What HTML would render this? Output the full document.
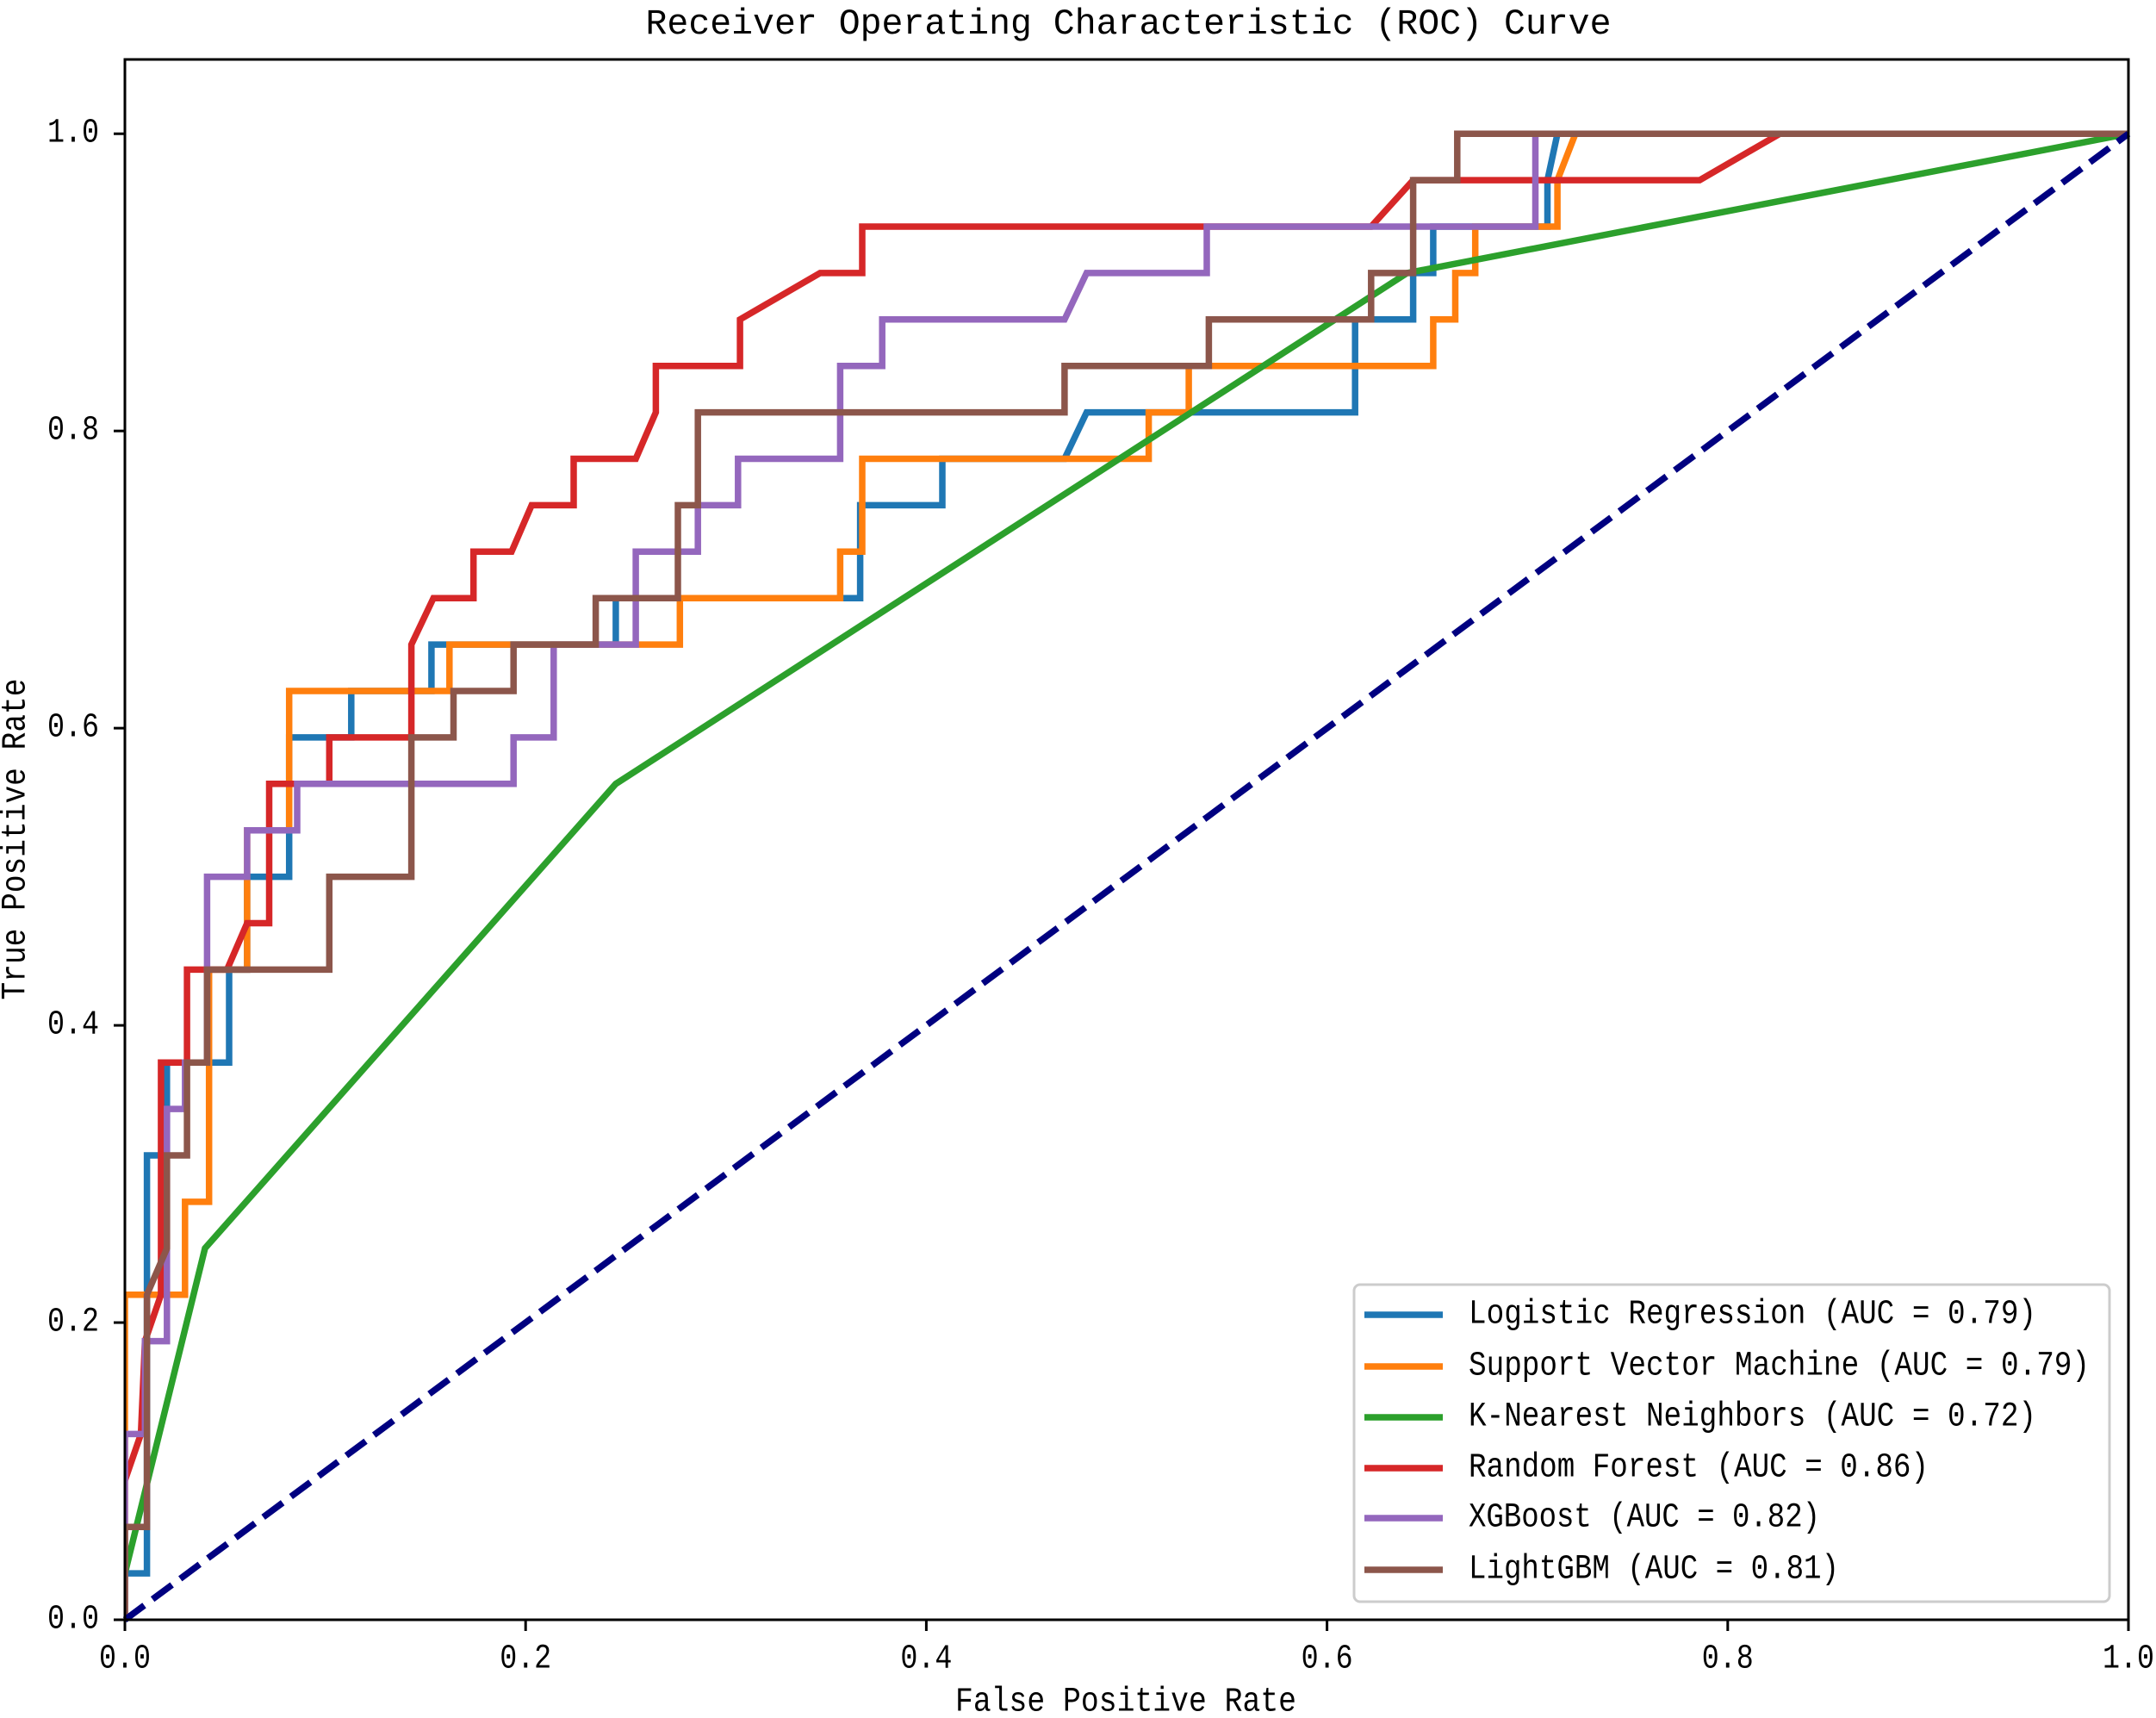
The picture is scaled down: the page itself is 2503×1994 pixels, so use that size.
<!DOCTYPE html>
<html><head><meta charset="utf-8"><style>
html,body{margin:0;padding:0;background:#fff;}
svg{display:block;}
text{font-family:"Liberation Mono","Noto Serif CJK SC",monospace;fill:#000;}
</style></head><body>
<svg id="chart" width="2503" height="1994" viewBox="0 0 2503 1994" xmlns="http://www.w3.org/2000/svg">
<rect width="2503" height="1994" fill="#fff"/>
<text x="1310" y="28" font-size="42" text-anchor="middle" dominant-baseline="central" textLength="1121" lengthAdjust="spacingAndGlyphs">Receiver Operating Characteristic (ROC) Curve</text>
<g id="plot"></g>
<g id="axes"></g>
<g id="legend"></g>
<text x="1307" y="1976" font-size="40" text-anchor="middle" dominant-baseline="central" textLength="396" lengthAdjust="spacingAndGlyphs">False Positive Rate</text>
<text x="19" y="974" font-size="40" text-anchor="middle" dominant-baseline="central" textLength="373" lengthAdjust="spacingAndGlyphs" transform="rotate(-90 19 974)">True Positive Rate</text>
</svg>
<script>
const seriesNames = ["Logistic Regression (AUC = 0.79)","Support Vector Machine (AUC = 0.79)","K-Nearest Neighbors (AUC = 0.72)","Random Forest (AUC = 0.86)","XGBoost (AUC = 0.82)","LightGBM (AUC = 0.81)"];
const seriesColors = ["#1f77b4","#ff7f0e","#2ca02c","#d62728","#9467bd","#8c564b"];
const xTicks = [0,0.2,0.4,0.6,0.8,1.0];
const xTickLabels = ["0.0","0.2","0.4","0.6","0.8","1.0"];
const yTicks = [0,0.2,0.4,0.6,0.8,1.0];
const yTickLabels = ["0.0","0.2","0.4","0.6","0.8","1.0"];
const lrFpr = [0,0,0.011,0.011,0.021,0.021,0.052,0.052,0.061,0.061,0.082,0.082,0.113,0.113,0.153,0.153,0.245,0.245,0.367,0.367,0.408,0.408,0.469,0.48,0.614,0.614,0.643,0.643,0.653,0.653,0.71,0.71,0.715,1];
const lrTpr = [0,0.03125,0.03125,0.3125,0.3125,0.375,0.375,0.4375,0.4375,0.5,0.5,0.59375,0.59375,0.625,0.625,0.65625,0.65625,0.6875,0.6875,0.75,0.75,0.78125,0.78125,0.8125,0.8125,0.875,0.875,0.90625,0.90625,0.9375,0.9375,0.96875,1,1];
const svmFpr = [0,0,0.030,0.030,0.042,0.042,0.061,0.061,0.082,0.082,0.162,0.162,0.277,0.277,0.357,0.357,0.368,0.368,0.511,0.511,0.531,0.531,0.653,0.653,0.664,0.664,0.674,0.674,0.715,0.715,0.724,1];
const svmTpr = [0,0.21875,0.21875,0.28125,0.28125,0.4375,0.4375,0.53125,0.53125,0.625,0.625,0.65625,0.65625,0.6875,0.6875,0.71875,0.71875,0.78125,0.78125,0.8125,0.8125,0.84375,0.84375,0.875,0.875,0.90625,0.90625,0.9375,0.9375,0.96875,1,1];
const knnFpr = [0,0.04,0.245,0.64,1];
const knnTpr = [0.03125,0.25,0.5625,0.90625,1];
const rfFpr = [0,0.008,0.01,0.018,0.018,0.031,0.031,0.051,0.061,0.072,0.072,0.102,0.102,0.143,0.143,0.154,0.174,0.174,0.193,0.203,0.224,0.224,0.255,0.265,0.265,0.307,0.307,0.347,0.368,0.368,0.622,0.643,0.786,0.826,1];
const rfTpr = [0.09375,0.125,0.1875,0.21875,0.375,0.375,0.4375,0.4375,0.46875,0.46875,0.5625,0.5625,0.59375,0.59375,0.65625,0.6875,0.6875,0.71875,0.71875,0.75,0.75,0.78125,0.78125,0.8125,0.84375,0.84375,0.875,0.90625,0.90625,0.9375,0.9375,0.96875,0.96875,1,1];
const xgbFpr = [0,0,0.01,0.01,0.021,0.021,0.03,0.03,0.041,0.041,0.061,0.061,0.086,0.086,0.194,0.194,0.214,0.214,0.255,0.255,0.286,0.286,0.306,0.306,0.357,0.357,0.378,0.378,0.469,0.48,0.54,0.54,0.704,0.704,1];
const xgbTpr = [0,0.125,0.125,0.1875,0.1875,0.34375,0.34375,0.375,0.375,0.5,0.5,0.53125,0.53125,0.5625,0.5625,0.59375,0.59375,0.65625,0.65625,0.71875,0.71875,0.75,0.75,0.78125,0.78125,0.84375,0.84375,0.875,0.875,0.90625,0.90625,0.9375,0.9375,1,1];
const lgbFpr = [0,0,0.011,0.011,0.021,0.021,0.031,0.031,0.041,0.041,0.102,0.102,0.143,0.143,0.164,0.164,0.194,0.194,0.235,0.235,0.276,0.276,0.286,0.286,0.469,0.469,0.541,0.541,0.622,0.622,0.634,0.643,0.643,0.665,0.665,1];
const lgbTpr = [0,0.0625,0.0625,0.21875,0.25,0.3125,0.3125,0.375,0.375,0.4375,0.4375,0.5,0.5,0.59375,0.59375,0.625,0.625,0.65625,0.65625,0.6875,0.6875,0.75,0.75,0.8125,0.8125,0.84375,0.84375,0.875,0.875,0.90625,0.90625,0.90625,0.96875,0.96875,1,1];
const chanceFpr = [0,1];
const chanceTpr = [0,1];

const NS = "http://www.w3.org/2000/svg";
const L = 145, R = 2471, T = 69, B = 1880;
const xMin = 0, xMax = 1, yMin = 0, yMax = 1.05;
function sx(v){ return L + (v - xMin) / (xMax - xMin) * (R - L); }
function sy(v){ return B - (v - yMin) / (yMax - yMin) * (B - T); }
function mk(tag, attrs){ const e = document.createElementNS(NS, tag); for (const k in attrs) e.setAttribute(k, attrs[k]); return e; }

const plot = document.getElementById('plot');
const clip = mk('clipPath', {id:'clipArea'});
clip.appendChild(mk('rect', {x:L, y:T, width:R-L, height:B-T}));
plot.appendChild(clip);

const allX = [lrFpr, svmFpr, knnFpr, rfFpr, xgbFpr, lgbFpr];
const allY = [lrTpr, svmTpr, knnTpr, rfTpr, xgbTpr, lgbTpr];
const seriesKeys = ['logistic-regression','svm','knn','random-forest','xgboost','lightgbm'];
for (let s = 0; s < allX.length; s++) {
  const pts = allX[s].map((x, i) => sx(x).toFixed(1) + ',' + sy(allY[s][i]).toFixed(1)).join(' ');
  const pl = mk('polyline', {points: pts, fill: 'none', stroke: seriesColors[s], 'stroke-width': 7.5, 'stroke-linejoin': 'miter', 'clip-path': 'url(#clipArea)'});
  
  
  plot.appendChild(pl);
}
const dl = mk('polyline', {points: chanceFpr.map((x,i)=>sx(x)+','+sy(chanceTpr[i])).join(' '), fill:'none', stroke:'#000080', 'stroke-width':7.5, 'stroke-dasharray':'28,12'});


plot.appendChild(dl);

const axes = document.getElementById('axes');
const frame = mk('rect', {x:L, y:T, width:R-L, height:B-T, fill:'none', stroke:'#000', 'stroke-width':3});


axes.appendChild(frame);
xTicks.forEach((v, i) => {
  const t = mk('line', {x1:sx(v), x2:sx(v), y1:B, y2:B+13, stroke:'#000', 'stroke-width':3});
  
  
  axes.appendChild(t);
  const lb = mk('text', {x:sx(v), y:1926, 'font-size':40, 'text-anchor':'middle', 'dominant-baseline':'central', textLength:60, lengthAdjust:'spacingAndGlyphs'});
  lb.textContent = xTickLabels[i];
  
  
  axes.appendChild(lb);
});
yTicks.forEach((v, i) => {
  const t = mk('line', {x1:L-13, x2:L, y1:sy(v), y2:sy(v), stroke:'#000', 'stroke-width':3});
  
  
  axes.appendChild(t);
  const lb = mk('text', {x:115, y:sy(v), 'font-size':40, 'text-anchor':'end', 'dominant-baseline':'central', textLength:60, lengthAdjust:'spacingAndGlyphs'});
  lb.textContent = yTickLabels[i];
  
  
  axes.appendChild(lb);
});

const legend = document.getElementById('legend');
const box = mk('rect', {x:1572, y:1491, width:877, height:368, rx:7, fill:'#fff', 'fill-opacity':0.8, stroke:'#cccccc', 'stroke-width':3});


legend.appendChild(box);
const legendY = [1526, 1586, 1645, 1704, 1762, 1822];
const legendLen = [659, 721, 659, 534, 408, 430];
seriesNames.forEach((n, i) => {
  const g = mk('g', {});
  
  
  const ln = mk('line', {x1:1584, x2:1675, y1:legendY[i], y2:legendY[i], stroke:seriesColors[i], 'stroke-width':7.5});
  
  
  g.appendChild(ln);
  const tx = mk('text', {x:1705, y:legendY[i], 'font-size':40, 'dominant-baseline':'central', textLength:legendLen[i], lengthAdjust:'spacingAndGlyphs'});
  tx.textContent = n;
  
  
  g.appendChild(tx);
  legend.appendChild(g);
});
</script>
</body></html>
